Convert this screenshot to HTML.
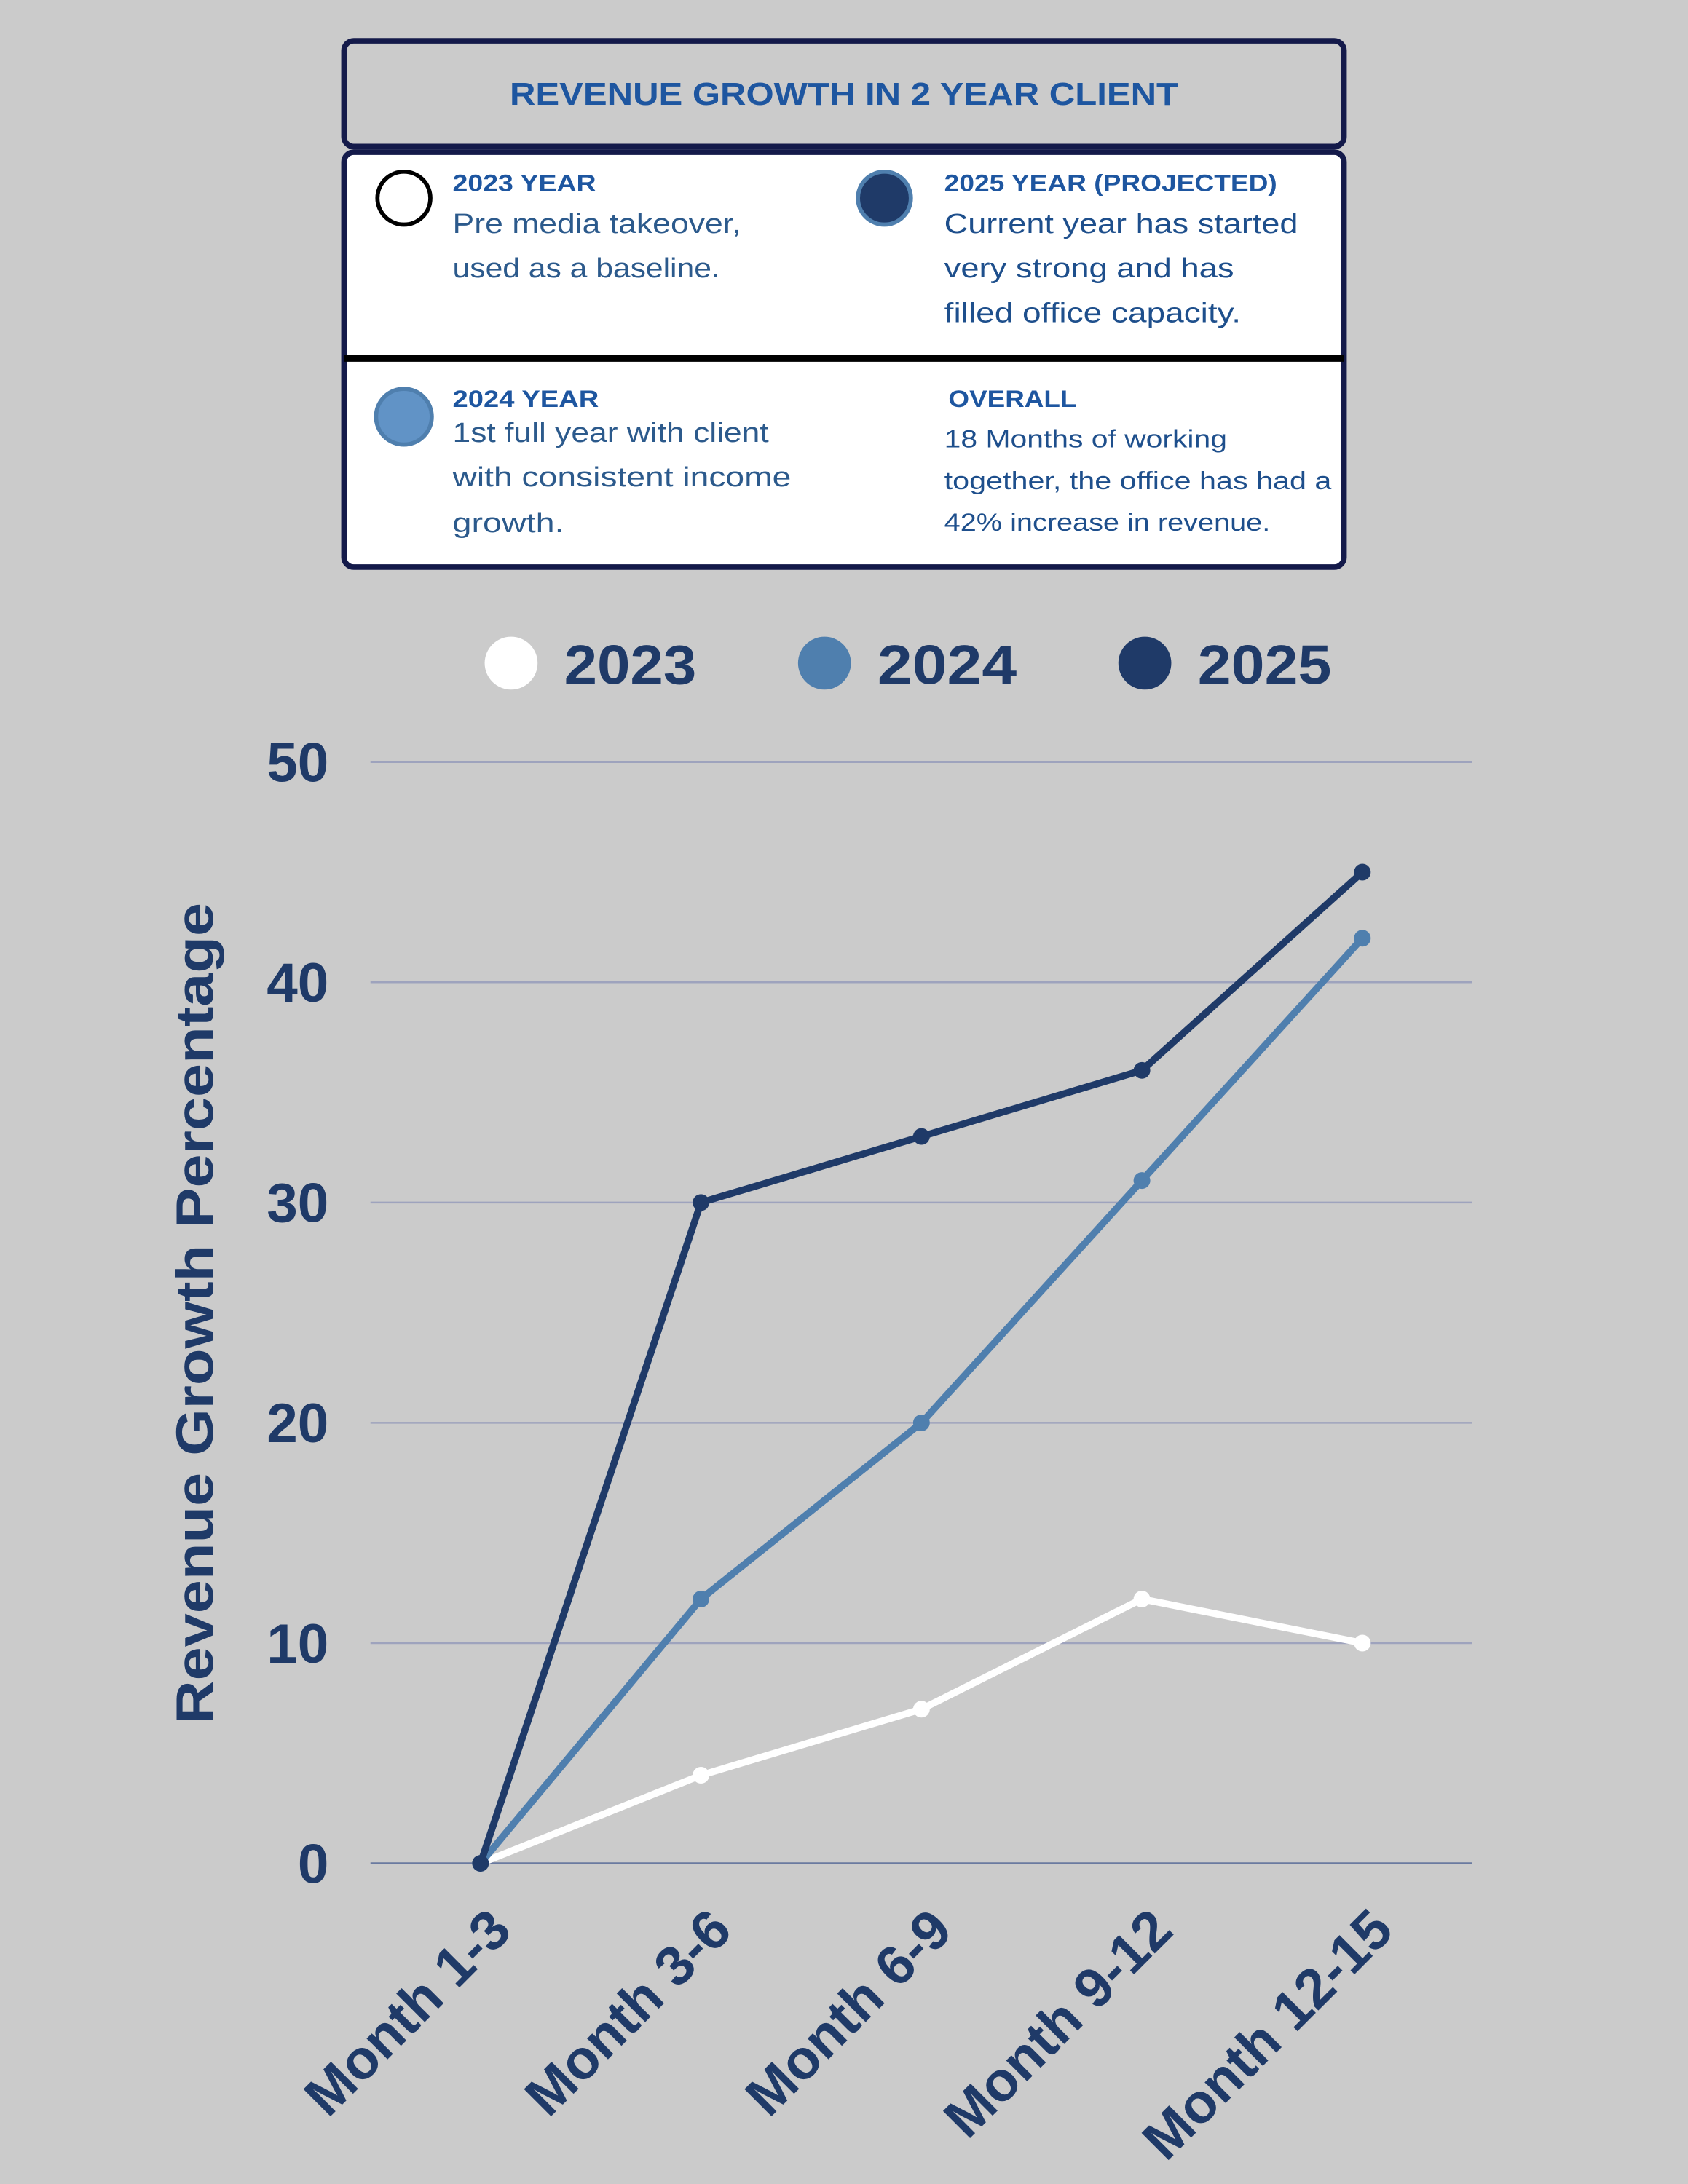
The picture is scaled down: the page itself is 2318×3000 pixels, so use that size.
<!DOCTYPE html>
<html><head><meta charset="utf-8"><style>
html,body{margin:0;padding:0;background:#cbcbcb;}
svg{display:block;font-family:"Liberation Sans",sans-serif;}
</style></head><body>
<svg id="chart" width="2318" height="3000" viewBox="0 0 1212 1568" xmlns="http://www.w3.org/2000/svg">
<rect width="1212" height="1568" fill="#cbcbcb"/>
<g>
<rect x="247" y="29" width="718" height="76" rx="7" fill="#cbcbcb" stroke="#141a4a" stroke-width="4"/>
<text x="366" y="75" textLength="480" lengthAdjust="spacingAndGlyphs" font-size="23" font-weight="bold" fill="#1e56a0">REVENUE GROWTH IN 2 YEAR CLIENT</text>
</g>
<g lengthAdjust="spacingAndGlyphs">
<rect x="247" y="109" width="718" height="298" rx="7" fill="#fff" stroke="#141a4a" stroke-width="4"/>
<line x1="247" y1="257" x2="965" y2="257" stroke="#000" stroke-width="5"/>
<circle cx="290" cy="142" r="19" fill="#fff" stroke="#000" stroke-width="3"/>
<text x="325" y="137" textLength="103" lengthAdjust="spacingAndGlyphs" font-size="17" font-weight="bold" fill="#1e56a0">2023 YEAR</text>
<text x="325" y="167" textLength="207" lengthAdjust="spacingAndGlyphs" font-size="20" fill="#2c5a8c">Pre media takeover,</text>
<text x="325" y="199" textLength="192" lengthAdjust="spacingAndGlyphs" font-size="20" fill="#2c5a8c">used as a baseline.</text>
<circle cx="635" cy="142" r="19" fill="#1f3a68" stroke="#4f7fae" stroke-width="3"/>
<text x="678" y="137" textLength="239" lengthAdjust="spacingAndGlyphs" font-size="17" font-weight="bold" fill="#1e56a0">2025 YEAR (PROJECTED)</text>
<text x="678" y="167" textLength="254" lengthAdjust="spacingAndGlyphs" font-size="20" fill="#1e4f8c">Current year has started</text>
<text x="678" y="199" textLength="208" lengthAdjust="spacingAndGlyphs" font-size="20" fill="#1e4f8c">very strong and has</text>
<text x="678" y="231" textLength="213" lengthAdjust="spacingAndGlyphs" font-size="20" fill="#1e4f8c">filled office capacity.</text>
<circle cx="290" cy="299" r="20" fill="#6193c6" stroke="#4f7fae" stroke-width="3"/>
<text x="325" y="292" textLength="105" lengthAdjust="spacingAndGlyphs" font-size="17" font-weight="bold" fill="#1e56a0">2024 YEAR</text>
<text x="325" y="317" textLength="227" lengthAdjust="spacingAndGlyphs" font-size="20" fill="#2c5a8c">1st full year with client</text>
<text x="325" y="349" textLength="243" lengthAdjust="spacingAndGlyphs" font-size="20" fill="#2c5a8c">with consistent income</text>
<text x="325" y="382" textLength="80" lengthAdjust="spacingAndGlyphs" font-size="20" fill="#2c5a8c">growth.</text>
<text x="681" y="292" textLength="92" lengthAdjust="spacingAndGlyphs" font-size="17" font-weight="bold" fill="#1e56a0">OVERALL</text>
<text x="678" y="321" textLength="203" lengthAdjust="spacingAndGlyphs" font-size="18" fill="#1e4f8c">18 Months of working</text>
<text x="678" y="351" textLength="278" lengthAdjust="spacingAndGlyphs" font-size="18" fill="#1e4f8c">together, the office has had a</text>
<text x="678" y="381" textLength="234" lengthAdjust="spacingAndGlyphs" font-size="18" fill="#1e4f8c">42% increase in revenue.</text>
</g>
<g>
<circle cx="367" cy="476" r="19" fill="#fff"/>
<text x="405" y="491" textLength="95" lengthAdjust="spacingAndGlyphs" font-size="40" font-weight="bold" fill="#1f3a68">2023</text>
<circle cx="592" cy="476" r="19" fill="#4f7fae"/>
<text x="630" y="491" textLength="100" lengthAdjust="spacingAndGlyphs" font-size="40" font-weight="bold" fill="#1f3a68">2024</text>
<circle cx="822" cy="476" r="19" fill="#1f3a68"/>
<text x="860" y="491" textLength="96" lengthAdjust="spacingAndGlyphs" font-size="40" font-weight="bold" fill="#1f3a68">2025</text>
</g>
<g id="grid"></g><g id="ylabels"></g><g id="xlabels"></g><g id="series"></g>
<text transform="translate(153,943) rotate(-90)" text-anchor="middle" textLength="590" lengthAdjust="spacingAndGlyphs" font-size="38" font-weight="bold" fill="#1f3a68">Revenue Growth Percentage</text>
</svg>
<script>
const categories = ["Month 1-3","Month 3-6","Month 6-9","Month 9-12","Month 12-15"];
const s2023 = [0,4,7,12,10];
const s2024 = [0,12,20,31,42];
const s2025 = [0,30,33,36,45];
const yTicks = [0,10,20,30,40,50];
const NS="http://www.w3.org/2000/svg";
const x0=266,x1=1057,y0=1338,y1=547;
function yS(v){return y0-(v/50)*(y0-y1);}
function xS(i){return 345+i*158.3;}
function mk(t,a,p){const e=document.createElementNS(NS,t);for(const k in a)e.setAttribute(k,a[k]);p.appendChild(e);return e;}
const grid=document.getElementById('grid'),yl=document.getElementById('ylabels'),xl=document.getElementById('xlabels'),ser=document.getElementById('series');
yTicks.forEach(v=>{
 const l=mk('line',{x1:x0,x2:x1,y1:yS(v),y2:yS(v),stroke:v===0?'#6a7aa0':'#9ea3bd','stroke-width':1.3},grid);
 
 
 const t=mk('text',{x:236,y:yS(v)+14,'text-anchor':'end','font-size':40,'font-weight':'bold',fill:'#1f3a68'},yl);
 t.textContent=v;
 
 
});
categories.forEach((c,i)=>{
 const t=mk('text',{transform:`translate(${xS(i)+24},${y0+50}) rotate(-45)`,'text-anchor':'end','font-size':40,'font-weight':'bold',fill:'#1f3a68'},xl);
 t.textContent=c;
 
 
});
[[s2023,'#ffffff','2023'],[s2024,'#4f7fae','2024'],[s2025,'#1f3a68','2025']].forEach(([d,col,n])=>{
 const p=mk('polyline',{points:d.map((v,i)=>xS(i)+','+yS(v)).join(' '),fill:'none',stroke:col,'stroke-width':5,'stroke-linejoin':'round'},ser);
 
 
 d.forEach((v,i)=>{
  const c=mk('circle',{cx:xS(i),cy:yS(v),r:6,fill:col},ser);
  
  
 });
});
</script>
</body></html>
